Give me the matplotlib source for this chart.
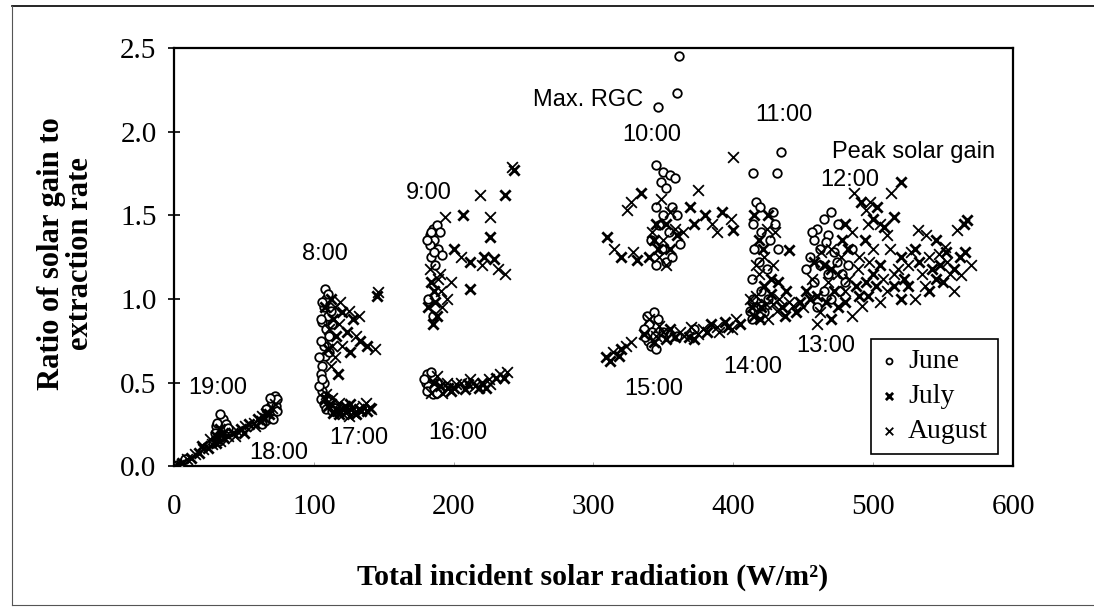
import numpy as np
import matplotlib
matplotlib.use("Agg")
import matplotlib.pyplot as plt
from matplotlib.lines import Line2D

# --- data (x = W/m2, y = ratio) ---
june_evening = [(2, 0.01), (5, 0.02), (8, 0.04), (28, 0.14), (30, 0.17), (31, 0.21), (33, 0.19),
                (34, 0.24), (35, 0.28), (33, 0.31), (36, 0.22), (38, 0.20), (30, 0.24), (32, 0.15),
                (29, 0.20), (31, 0.26), (34, 0.16), (37, 0.25), (39, 0.23),
                (65, 0.27), (67, 0.30), (68, 0.35), (70, 0.38), (72, 0.42), (71, 0.33), (69, 0.29),
                (73, 0.36), (74, 0.40), (63, 0.25), (66, 0.34), (69, 0.41), (71, 0.28), (74, 0.33)]
june_8_17 = [(108, 1.06), (109, 1.00), (107, 0.95), (110, 0.90), (106, 0.86), (109, 0.82), (111, 0.78),
             (107, 0.72), (108, 0.66), (106, 0.60), (105, 0.55), (107, 0.50), (106, 0.45), (108, 0.42),
             (110, 0.38), (112, 0.36), (115, 0.35), (112, 0.93), (113, 0.85),
             (105, 0.40), (107, 0.37), (109, 0.34), (111, 0.40), (113, 0.33), (104, 0.48), (106, 0.52),
             (104, 0.65), (105, 0.75), (106, 0.98), (110, 1.03), (111, 0.68), (105, 0.88)]
june_9_16 = [(183, 1.38), (185, 1.42), (188, 1.44), (190, 1.40), (186, 1.35), (183, 1.32), (189, 1.30),
             (192, 1.26), (184, 1.25), (187, 1.20), (182, 1.00), (185, 0.90), (181, 0.55), (180, 0.50),
             (183, 0.46), (185, 0.43), (182, 0.48), (188, 0.50), (190, 0.45),
             (181, 1.35), (184, 1.40), (186, 1.28), (179, 0.52), (181, 0.45), (184, 0.56), (186, 0.47),
             (188, 0.44)]
june_10_15 = [(346, 2.15), (360, 2.23), (361, 2.45), (345, 1.80), (350, 1.76), (355, 1.74), (348, 1.70),
              (358, 1.72), (352, 1.66), (345, 1.55), (350, 1.50), (347, 1.44), (354, 1.40), (356, 1.55),
              (360, 1.50), (349, 1.30), (352, 1.22), (345, 1.20), (356, 1.25), (362, 1.33), (341, 1.35),
              (338, 0.90), (340, 0.85), (342, 0.80), (339, 0.75), (341, 0.72), (344, 0.78), (336, 0.82),
              (346, 0.88), (350, 0.80), (360, 0.78), (372, 0.82), (337, 0.77), (343, 0.92), (345, 0.70)]
june_11_14 = [(434, 1.88), (414, 1.75), (431, 1.75), (416, 1.58), (419, 1.55), (428, 1.52), (414, 1.45),
              (420, 1.40), (426, 1.35), (415, 1.30), (418, 1.22), (424, 1.18), (413, 1.12), (420, 1.05),
              (416, 0.98), (422, 0.92), (413, 0.88), (430, 1.45), (432, 1.30), (425, 1.00),
              (412, 0.93), (414, 1.00), (418, 0.90), (420, 0.96)]
june_12_13 = [(460, 1.42), (465, 1.48), (470, 1.52), (458, 1.35), (468, 1.38), (475, 1.45), (455, 1.25),
              (462, 1.20), (472, 1.28), (478, 1.15), (458, 1.10), (465, 1.05), (470, 1.00), (480, 1.10),
              (485, 1.30), (452, 1.18), (460, 0.95), (462, 1.30), (468, 1.15), (474, 1.22), (456, 1.40),
              (466, 1.34), (482, 1.20), (476, 1.05)]

july_pts = [(1, 0.00), (6, 0.02), (12, 0.05), (18, 0.08), (24, 0.11), (30, 0.14), (36, 0.17), (42, 0.20),
            (48, 0.22), (54, 0.25), (60, 0.28), (66, 0.32), (20, 0.12), (35, 0.20), (50, 0.20),
            (30, 0.18), (33, 0.22), (62, 0.27), (68, 0.31),
            (108, 0.40), (116, 0.34), (124, 0.33), (132, 0.34), (138, 0.33), (126, 0.37),
            (110, 0.36), (114, 0.32), (118, 0.31), (122, 0.36), (130, 0.31), (134, 0.33), (140, 0.35),
            (112, 1.00), (120, 0.92), (128, 0.88), (124, 0.80), (133, 0.75), (126, 0.68), (110, 0.70),
            (145, 1.02), (138, 0.72), (117, 0.55), (108, 0.95), (114, 0.88), (116, 0.78),
            (207, 1.50), (237, 1.62), (243, 1.77), (226, 1.37), (212, 1.06), (200, 1.30), (212, 1.22),
            (229, 1.24), (222, 1.25), (186, 1.05), (188, 0.90), (185, 0.85), (182, 0.95), (184, 1.10),
            (187, 0.98),
            (190, 0.48), (200, 0.47), (210, 0.49), (220, 0.50), (230, 0.53), (198, 0.45), (223, 0.47),
            (186, 0.50), (196, 0.47), (208, 0.46), (218, 0.47), (236, 0.53),
            (310, 1.37), (320, 1.25), (331, 1.23), (334, 1.63), (369, 1.55), (380, 1.50), (392, 1.52),
            (400, 1.41), (372, 1.45), (345, 1.45), (355, 1.30), (340, 1.25), (343, 1.35), (352, 1.45),
            (360, 1.38), (346, 1.30),
            (309, 0.65), (320, 0.70), (318, 0.66), (358, 0.77), (372, 0.76), (384, 0.85), (396, 0.83),
            (405, 0.85), (355, 0.82), (336, 0.79), (343, 0.74), (352, 0.76), (368, 0.77), (381, 0.80),
            (394, 0.86), (312, 0.63),
            (425, 1.50), (440, 1.29), (432, 1.10), (418, 1.35), (420, 0.95), (435, 0.95), (445, 0.92),
            (415, 0.90), (438, 1.05), (413, 0.95), (419, 0.88), (427, 1.03), (437, 0.90), (448, 0.98),
            (415, 1.50), (421, 1.30), (427, 1.12), (422, 1.08),
            (520, 1.70), (515, 1.49), (491, 1.58), (500, 1.48), (508, 1.43), (567, 1.47), (565, 1.45),
            (545, 1.35), (530, 1.30), (520, 1.25), (505, 1.20), (495, 1.10), (525, 1.08), (548, 1.20),
            (562, 1.25), (540, 1.05), (520, 1.00), (490, 1.02), (475, 0.95), (470, 0.88), (465, 1.20),
            (478, 1.35), (455, 1.00), (500, 1.15), (545, 1.12), (552, 1.28),
            (452, 1.05), (460, 1.02), (466, 0.98), (472, 1.05), (480, 0.98), (488, 1.08), (496, 1.02),
            (458, 1.22), (470, 1.18), (482, 1.30), (494, 1.35), (502, 1.08), (515, 1.08), (522, 1.12),
            (533, 1.22), (542, 1.18), (550, 1.10), (558, 1.18), (566, 1.28), (480, 1.45), (503, 1.55)]

aug_pts = [(3, 0.01), (9, 0.04), (15, 0.07), (21, 0.10), (27, 0.13), (33, 0.15), (39, 0.18), (45, 0.21),
           (51, 0.24), (57, 0.26), (63, 0.30), (70, 0.35), (26, 0.16), (44, 0.18), (58, 0.24),
           (36, 0.20), (65, 0.29), (72, 0.37),
           (112, 0.37), (120, 0.34), (128, 0.35), (135, 0.36), (118, 0.38),
           (109, 0.43), (113, 0.41), (117, 0.33), (121, 0.31), (125, 0.30), (129, 0.32), (137, 0.38),
           (141, 0.34),
           (115, 0.95), (125, 0.93), (118, 0.85), (130, 0.78), (120, 0.72), (115, 0.65), (132, 0.90),
           (146, 1.04), (144, 0.70), (112, 0.60), (113, 0.72), (111, 0.82), (119, 0.98),
           (219, 1.62), (242, 1.79), (226, 1.49), (237, 1.15), (194, 1.49), (205, 1.25), (220, 1.20),
           (232, 1.18), (190, 1.15), (192, 0.95), (195, 1.00), (198, 1.10), (183, 1.18), (189, 1.12),
           (191, 1.05),
           (195, 0.50), (205, 0.50), (215, 0.48), (225, 0.52), (233, 0.55), (212, 0.52), (184, 0.44),
           (192, 0.44), (202, 0.49), (214, 0.50), (226, 0.49), (238, 0.56), (188, 0.54),
           (315, 1.30), (328, 1.28), (324, 1.53), (327, 1.58), (400, 1.85), (375, 1.65), (385, 1.45),
           (398, 1.48), (388, 1.40), (364, 1.40), (350, 1.35), (348, 1.60), (358, 1.42), (347, 1.25),
           (355, 1.52), (342, 1.40), (352, 1.20),
           (314, 0.68), (327, 0.74), (350, 0.80), (365, 0.78), (378, 0.82), (390, 0.80), (402, 0.88),
           (345, 0.78), (370, 0.83), (340, 0.88), (347, 0.84), (362, 0.80), (375, 0.79), (388, 0.83),
           (399, 0.82), (323, 0.72),
           (430, 1.40), (428, 1.20), (422, 1.25), (412, 1.00), (428, 0.97), (440, 0.98), (450, 0.95),
           (425, 0.88), (416, 1.02), (423, 0.97), (431, 0.93), (443, 0.96), (433, 1.00), (418, 1.15),
           (424, 1.42), (416, 1.20),
           (513, 1.63), (486, 1.63), (495, 1.53), (505, 1.45), (532, 1.41), (560, 1.41), (551, 1.31),
           (540, 1.25), (525, 1.20), (515, 1.15), (500, 1.30), (510, 1.05), (535, 1.15), (555, 1.15),
           (570, 1.20), (530, 1.00), (505, 0.98), (480, 1.05), (485, 0.90), (460, 0.85), (470, 1.30),
           (485, 1.40), (490, 1.25), (512, 1.30), (558, 1.05), (538, 1.38),
           (456, 1.12), (462, 0.92), (468, 1.10), (475, 1.15), (483, 1.12), (492, 0.96), (463, 1.28),
           (477, 1.25), (489, 1.18), (497, 1.22), (507, 1.12), (518, 1.18), (527, 1.28), (537, 1.08),
           (547, 1.27), (553, 1.22), (563, 1.14), (496, 1.45), (510, 1.38), (498, 1.58)]

hour_labels = ["19:00", "18:00", "17:00", "8:00", "9:00", "16:00", "10:00", "15:00",
               "14:00", "11:00", "12:00", "13:00", "Max. RGC", "Peak solar gain"]
label_x = [31, 75, 132, 108, 182, 203, 342, 343, 414, 436, 483, 466, 296, 529]
label_y = [0.47, 0.08, 0.17, 1.27, 1.63, 0.20, 1.98, 0.46, 0.59, 2.10, 1.71, 0.72, 2.19, 1.88]

june = np.array(june_evening + june_8_17 + june_9_16 + june_10_15 + june_11_14 + june_12_13)
july = np.array(july_pts)
aug = np.array(aug_pts)

serif = ["Liberation Serif", "DejaVu Serif"]
sans = ["Liberation Sans", "DejaVu Sans"]

fig = plt.figure(figsize=(10.94, 6.07), dpi=100)
ax = fig.add_axes([0.159, 0.232, 0.767, 0.689])

ax.scatter(june[:, 0], june[:, 1], marker="o", s=38, facecolors="white", edgecolors="black",
           linewidths=1.3, label="June", zorder=3)
ax.scatter(july[:, 0], july[:, 1], marker="x", s=55, color="black", linewidths=2.0,
           label="July", zorder=4)
ax.scatter(aug[:, 0], aug[:, 1], marker="x", s=60, color="black", linewidths=1.3,
           label="August", zorder=4)

for txt, x, y in zip(hour_labels, label_x, label_y):
    ax.text(x, y, txt, ha="center", va="center", fontsize=17, family=sans)

ax.set_xlim(0, 600)
ax.set_ylim(0, 2.5)
ax.set_xticks([0, 100, 200, 300, 400, 500, 600])
ax.set_yticks([0.0, 0.5, 1.0, 1.5, 2.0, 2.5])
ax.set_yticklabels(["0.0", "0.5", "1.0", "1.5", "2.0", "2.5"])
ax.tick_params(axis="y", direction="inout", length=9, width=1.2, pad=8, labelsize=21)
ax.tick_params(axis="x", direction="in", length=3, width=0.6, pad=20, labelsize=21, color="#999999")
for lab in ax.get_xticklabels() + ax.get_yticklabels():
    lab.set_family(serif)
for sp in ax.spines.values():
    sp.set_linewidth(1.6)

leg = ax.legend(loc="lower right", bbox_to_anchor=(0.982, 0.029), borderaxespad=0,
                prop={"family": serif, "size": 20}, handlelength=0.6, handletextpad=0.4,
                labelspacing=0.35, borderpad=0.35, fancybox=False, edgecolor="black",
                framealpha=1, scatterpoints=1, markerscale=0.7)
leg.get_frame().set_linewidth(1.2)

fig.text(0.542, 0.049, "Total incident solar radiation (W/m²)", ha="center", va="center",
         fontsize=21.5, fontweight="bold", family=serif)
fig.text(0.060, 0.582, "Ratio of solar gain to\nextraction rate", ha="center", va="center",
         rotation=90, fontsize=22, fontweight="bold", family=serif, linespacing=1.0)

# scanned page frame
fig.add_artist(Line2D([0.011, 1.0], [0.990, 0.990], color="black", lw=1.2, transform=fig.transFigure))
fig.add_artist(Line2D([0.011, 0.011], [0.003, 0.990], color="#555555", lw=0.8, transform=fig.transFigure))
fig.add_artist(Line2D([0.011, 1.0], [0.004, 0.004], color="#555555", lw=0.8, transform=fig.transFigure))

fig.savefig("out.png", dpi=100)
